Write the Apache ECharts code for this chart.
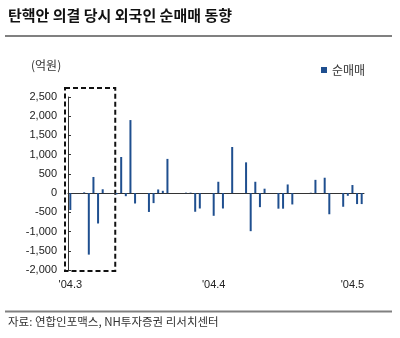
<!DOCTYPE html>
<html>
<head>
<meta charset="utf-8">
<script src="https://cdn.jsdelivr.net/npm/echarts@6/dist/echarts.min.js"></script>
<style>
  html, body { margin: 0; padding: 0; background: #fff; }
  #chart { width: 400px; height: 338px; }
</style>
</head>
<body>
<div id="chart"></div>
<script>
// Daily foreign net buying (KRW 100 million), trading days only
const tradeDates = [
  '2004-03-05', '2004-03-08', '2004-03-09', '2004-03-10', '2004-03-11', '2004-03-12',
  '2004-03-15', '2004-03-16', '2004-03-17', '2004-03-18', '2004-03-19',
  '2004-03-22', '2004-03-23', '2004-03-24', '2004-03-25', '2004-03-26',
  '2004-03-29', '2004-03-30', '2004-03-31', '2004-04-01', '2004-04-02',
  '2004-04-05', '2004-04-06', '2004-04-07', '2004-04-08', '2004-04-09',
  '2004-04-12', '2004-04-13', '2004-04-14', '2004-04-15', '2004-04-16',
  '2004-04-19', '2004-04-20', '2004-04-21', '2004-04-22', '2004-04-23',
  '2004-04-26', '2004-04-27', '2004-04-28', '2004-04-29', '2004-04-30',
  '2004-05-03', '2004-05-04', '2004-05-05', '2004-05-06', '2004-05-07'
];
const netBuy = [
  -440, 20, -1600, 420, -790, 100,
  -30, 940, -80, 1900, -270,
  -490, -260, 95, 60, 890,
  0, 12, 12, -485, -400,
  -590, 295, -400, 0, 1200,
  800, -990, 295, -365, 115,
  -405, -405, 225, -295, 0,
  10, 345, 0, 400, -550,
  -355, -70, 210, -285, -285
];

// Month labels on the date axis
const monthLabels = {
  '2004-03-05': "'04.3",
  '2004-04-05': "'04.4",
  '2004-05-05': "'04.5"
};

// Value axis range
const yMin = -2000;
const yMax = 2500;
const yStep = 500;

// Period around the impeachment vote, outlined with a dashed box
const highlightStart = '2004-03-05';
const highlightEnd = '2004-03-14';

const seriesName = '순매매';
const barColor = '#1f4f8f';
const cjk = '"Noto Sans CJK KR", "Noto Sans", sans-serif';
const latin = '"Liberation Sans", Arial, sans-serif';

// Calendar-day categories so that weekends and holidays leave gaps
function fmt(d) {
  const m = String(d.getUTCMonth() + 1).padStart(2, '0');
  const dd = String(d.getUTCDate()).padStart(2, '0');
  return d.getUTCFullYear() + '-' + m + '-' + dd;
}
const days = [];
const lookup = {};
tradeDates.forEach((d, i) => { lookup[d] = netBuy[i]; });
{
  const start = new Date(tradeDates[0] + 'T00:00:00Z');
  const end = new Date(tradeDates[tradeDates.length - 1] + 'T00:00:00Z');
  for (let d = new Date(start); d <= end; d.setUTCDate(d.getUTCDate() + 1)) {
    days.push(fmt(d));
  }
}
const dailyValues = days.map(d => (d in lookup ? lookup[d] : null));
const isMonthTick = (i, v) => v in monthLabels;

const chart = echarts.init(document.getElementById('chart'), null, { renderer: 'canvas' });

chart.setOption({
  animation: false,
  backgroundColor: '#fff',
  grid: { left: 68, right: 36, top: 97, bottom: 68, containLabel: false },
  legend: {
    data: [{ name: seriesName, icon: 'rect' }],
    left: 316, top: 59,
    itemWidth: 6, itemHeight: 6, itemGap: 4,
    textStyle: { fontFamily: cjk, fontSize: 12, color: '#333' }
  },
  xAxis: [
    {
      // zero line
      type: 'category',
      data: days,
      boundaryGap: true,
      axisLine: { onZero: true, lineStyle: { color: '#333', width: 1 } },
      axisTick: { show: false },
      axisLabel: { show: false },
      splitLine: { show: false }
    },
    {
      // month labels along the bottom
      type: 'category',
      data: days,
      position: 'bottom',
      boundaryGap: true,
      axisLine: { show: false, onZero: false },
      axisTick: { show: false },
      axisLabel: {
        interval: isMonthTick,
        formatter: v => monthLabels[v] || '',
        fontFamily: latin, fontSize: 11, color: '#222', margin: 9
      },
      splitLine: { show: false }
    }
  ],
  yAxis: {
    type: 'value',
    min: yMin, max: yMax, interval: yStep,
    axisLine: { show: true, lineStyle: { color: '#333', width: 1 } },
    axisTick: { show: true, inside: true, length: 3, lineStyle: { color: '#333' } },
    splitLine: { show: false },
    axisLabel: {
      formatter: v => v.toLocaleString('en-US'),
      fontFamily: latin, fontSize: 11, color: '#222', margin: 11
    }
  },
  series: [{
    name: seriesName,
    type: 'bar',
    xAxisIndex: 0,
    data: dailyValues,
    barWidth: 2,
    itemStyle: { color: barColor }
  }]
});

// Dashed box around the impeachment-vote period, placed from axis coordinates
const band = chart.convertToPixel({ xAxisIndex: 0 }, days[1]) - chart.convertToPixel({ xAxisIndex: 0 }, days[0]);
const bx0 = chart.convertToPixel({ xAxisIndex: 0 }, highlightStart) - band / 2 - 3;
const bx1 = chart.convertToPixel({ xAxisIndex: 0 }, highlightEnd) + band / 2 + 1;
const by0 = chart.convertToPixel({ yAxisIndex: 0 }, yMax) - 9;
const by1 = chart.convertToPixel({ yAxisIndex: 0 }, yMin) + 1;

chart.setOption({
  graphic: [
    {
      type: 'text', left: 8, top: 8,
      style: { text: '탄핵안 의결 당시 외국인 순매매 동향', font: 'bold 15px ' + cjk, fill: '#111' }
    },
    {
      type: 'line', shape: { x1: 5, y1: 36, x2: 392, y2: 36 },
      style: { stroke: '#808080', lineWidth: 2 }
    },
    {
      type: 'text', left: 31, top: 59,
      style: { text: '(억원)', font: '12px ' + cjk, fill: '#333' }
    },
    {
      type: 'rect',
      shape: { x: bx0, y: by0, width: bx1 - bx0, height: by1 - by0 },
      style: { fill: 'none', stroke: '#111', lineWidth: 2, lineDash: [5, 3] }
    },
    {
      type: 'line', shape: { x1: 5, y1: 311.5, x2: 392, y2: 311.5 },
      style: { stroke: '#808080', lineWidth: 2 }
    },
    {
      type: 'text', left: 8, top: 316,
      style: { text: '자료: 연합인포맥스, NH투자증권 리서치센터', font: '11.5px ' + cjk, fill: '#333' }
    }
  ]
});
</script>
</body>
</html>
